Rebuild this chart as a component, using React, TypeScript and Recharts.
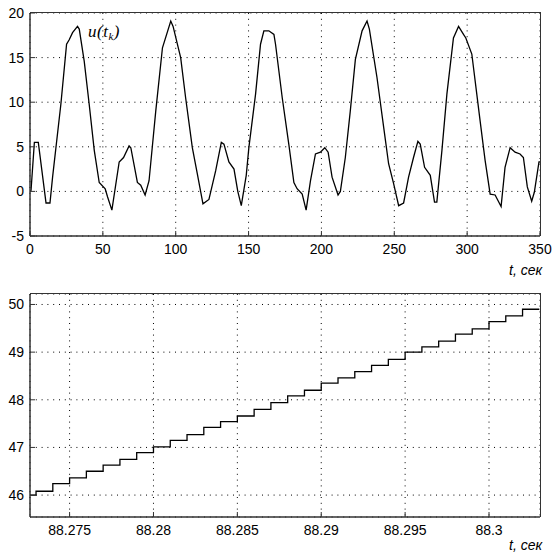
import React from 'react';
import { LineChart, Line, XAxis, YAxis, CartesianGrid } from 'recharts';

// ---- top panel: u(t_k) over 0..350 s ----
const topTime = [
  0, 0.7, 3.0, 5.7, 11.0, 13.7, 15.5, 21.2, 25.1, 26.9, 29.2, 32.6, 33.8, 37.2, 40.6, 44.1, 47.5,
  51.6, 53.2, 56.2, 61.2, 64.2, 68.0, 69.2, 73.7, 76.0, 79.0, 81.7, 86.3, 90.9, 96.6, 98.2,
  103.4, 106.8, 111.4, 114.8, 118.7, 122.8, 127.4, 131.3, 133.1, 136.5, 140.0, 142.6, 145.0,
  148.4, 150.2, 154.8, 158.2, 160.5, 163.9, 167.4, 168.5, 173.1, 177.6, 181.1, 183.3, 186.8,
  189.5, 192.5, 195.9, 199.3, 202.3, 204.6, 207.3, 211.4, 213.0, 216.4, 219.8, 223.3, 227.9,
  231.3, 232.9, 238.1, 242.7, 246.1, 249.5, 253.0, 256.4, 259.8, 263.2, 266.2, 267.8, 270.8,
  274.7, 277.6, 279.2, 282.7, 286.1, 290.6, 294.1, 297.5, 299.1, 303.2, 308.9, 312.3, 315.8,
  319.2, 323.3, 326.0, 329.5, 332.9, 336.3, 338.6, 341.3, 344.3, 346.1, 349.3, 350,
];
const topU = [
  0, 0.1, 5.5, 5.5, -1.3, -1.3, 1.6, 9.8, 16.5, 17.0, 17.8, 18.5, 18.2, 14.6, 9.8, 4.6, 1.0,
  0.3, -0.6, -2.1, 3.3, 3.8, 5.1, 4.9, 1.0, 0.7, -0.4, 1.2, 9.0, 16.1, 19.1, 18.5,
  15.0, 10.5, 4.9, 2.0, -1.4, -0.9, 2.3, 5.5, 5.3, 3.3, 2.5, 0.0, -1.6,
  1.8, 4.9, 10.9, 16.5, 18.0, 18.0, 17.6, 16.5, 10.5, 5.3, 1.0, 0.3, -0.3,
  -2.1, 1.2, 4.2, 4.4, 4.9, 4.4, 1.6, -0.4, 0.0, 3.8, 9.0, 14.8, 18.0,
  19.1, 18.2, 12.8, 7.2, 3.1, 0.9, -1.6, -1.3, 1.6, 3.8, 5.6, 5.3, 2.7,
  1.8, -1.2, -1.2, 4.6, 10.9, 17.2, 18.5, 17.6, 17.2, 15.4, 7.9, 3.5, -0.3,
  -0.4, -1.7, 2.7, 4.9, 4.4, 4.2, 3.8, 0.5, -1.1, -0.1, 3.3, 3.3,
];
const topXTicks = [0, 50, 100, 150, 200, 250, 300, 350];
const topYTicks = [-5, 0, 5, 10, 15, 20];

// ---- bottom panel: zoomed staircase ----
const stepTime = [
  88.2726, 88.273, 88.274, 88.275, 88.276, 88.277, 88.278, 88.279, 88.28, 88.281, 88.282,
  88.283, 88.284, 88.285, 88.286, 88.287, 88.288, 88.289, 88.29, 88.291, 88.292, 88.293,
  88.294, 88.295, 88.296, 88.297, 88.298, 88.299, 88.3, 88.301, 88.302, 88.303,
];
const stepValue = [
  46.0, 46.08, 46.24, 46.36, 46.5, 46.63, 46.75, 46.89, 47.01, 47.15, 47.27,
  47.42, 47.54, 47.66, 47.8, 47.94, 48.08, 48.2, 48.35, 48.46, 48.59, 48.72,
  48.85, 49.0, 49.11, 49.23, 49.38, 49.49, 49.64, 49.76, 49.9, 49.9,
];
const bottomXTicks = [88.275, 88.28, 88.285, 88.29, 88.295, 88.3];
const bottomYTicks = [46, 47, 48, 49, 50];

const topData = topTime.map((t, i) => ({ t, u: topU[i] }));
const bottomData = stepTime.map((t, i) => ({ t, v: stepValue[i] }));

const AXIS_COLOR = '#333';
const tickStyle = { fontFamily: '"Liberation Sans", Arial, sans-serif', fontSize: 14, fill: '#000' };
const axisLine = { stroke: AXIS_COLOR, strokeWidth: 1.5 };
const tickLine = { stroke: AXIS_COLOR, strokeWidth: 1 };

function Panel(props: {
  id: string;
  data: any[];
  dataKey: string;
  xDomain: [number, number];
  yDomain: [number, number];
  xTicks: number[];
  yTicks: number[];
  step?: boolean;
  marginTop: number;
  marginBottom: number;
}) {
  const { id, data, dataKey, xDomain, yDomain, xTicks, yTicks, step, marginTop, marginBottom } = props;
  return (
    <div style={{ position: 'relative', width: 558, height: 260 }}>
      <LineChart
        id={id}
        width={558}
        height={260}
        data={data}
        margin={{ top: marginTop, right: 18, bottom: marginBottom, left: 0 }}
      >
        <CartesianGrid stroke="#000" strokeDasharray="1 4.8" />
        <XAxis
          dataKey="t"
          type="number"
          domain={xDomain}
          ticks={xTicks}
          allowDataOverflow
          height={20}
          tick={tickStyle}
          tickSize={-5}
          tickMargin={13}
          axisLine={axisLine}
          tickLine={tickLine}
          interval={0}
          tickFormatter={(v: number) => String(v)}
        />
        <YAxis
          type="number"
          domain={yDomain}
          ticks={yTicks}
          allowDataOverflow
          width={30}
          tick={tickStyle}
          tickSize={-5}
          tickMargin={11}
          axisLine={axisLine}
          tickLine={tickLine}
          interval={0}
        />
        <Line
          type={step ? 'stepAfter' : 'linear'}
          dataKey={dataKey}
          stroke="#000"
          strokeWidth={1.3}
          dot={false}
          isAnimationActive={false}
        />
      </LineChart>
      {/* box frame: top and right edges of the plot area */}
      <div
        style={{
          position: 'absolute',
          left: 30,
          top: marginTop - 1,
          width: 511,
          height: 224,
          boxSizing: 'border-box',
          borderTop: '1.5px solid ' + AXIS_COLOR,
          borderRight: '1.5px solid ' + AXIS_COLOR,
          pointerEvents: 'none',
        }}
      />
    </div>
  );
}

const labelFont = '"Liberation Sans", Arial, sans-serif';

export default function App() {
  return (
    <div style={{ position: 'absolute', left: 0, top: 0, width: 558, height: 558, background: '#fff' }}>
      <div style={{ position: 'absolute', left: 0, top: 0 }}>
        <Panel
          id="panel-top"
          data={topData}
          dataKey="u"
          xDomain={[0, 350]}
          yDomain={[-5, 20]}
          xTicks={topXTicks}
          yTicks={topYTicks}
          marginTop={13}
          marginBottom={4}
        />
      </div>
      <div style={{ position: 'absolute', left: 0, top: 280 }}>
        <Panel
          id="panel-bottom"
          data={bottomData}
          dataKey="v"
          xDomain={[88.27264, 88.30304]}
          yDomain={[45.54, 50.22]}
          xTicks={bottomXTicks}
          yTicks={bottomYTicks}
          step
          marginTop={14}
          marginBottom={3}
        />
      </div>
      <div
        style={{
          position: 'absolute',
          left: 88,
          top: 22,
          fontFamily: '"Liberation Serif", "Times New Roman", serif',
          fontStyle: 'italic',
          fontSize: 17,
          lineHeight: '20px',
          letterSpacing: 0.5,
          color: '#000',
          whiteSpace: 'nowrap',
        }}
      >
        u(t<sub style={{ fontSize: 11, verticalAlign: '-3px' }}>k</sub>)
      </div>
      <div
        style={{
          position: 'absolute',
          left: 509,
          top: 262,
          fontFamily: labelFont,
          fontStyle: 'italic',
          fontSize: 14,
          lineHeight: '16px',
          color: '#000',
          whiteSpace: 'nowrap',
        }}
      >
        t, сек
      </div>
      <div
        style={{
          position: 'absolute',
          left: 509,
          top: 537,
          fontFamily: labelFont,
          fontStyle: 'italic',
          fontSize: 14,
          lineHeight: '16px',
          color: '#000',
          whiteSpace: 'nowrap',
        }}
      >
        t, сек
      </div>
    </div>
  );
}
